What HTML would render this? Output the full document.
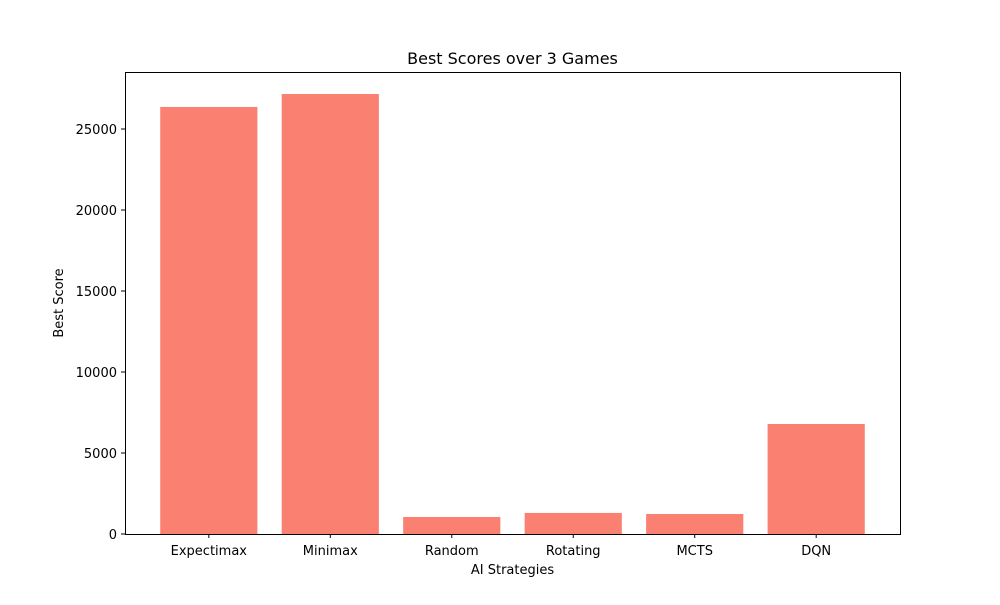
<!DOCTYPE html>
<html><head><meta charset="utf-8"><style>
body{margin:0;background:#fff;font-family:"Liberation Sans","DejaVu Sans",sans-serif;}
svg text{font-family:"DejaVu Sans","Liberation Sans",sans-serif;}
</style></head><body>
<svg id="chart" width="1000" height="600" xmlns="http://www.w3.org/2000/svg">
<rect width="1000" height="600" fill="#fff"/>
<g id="bars"></g><g id="xt"></g><g id="yt"></g>
<rect x="125.5" y="72.5" width="775" height="462" fill="none" stroke="#000" stroke-width="1"/>
<text x="512.5" y="64" text-anchor="middle" font-size="16">Best Scores over 3 Games</text>
<text x="512.5" y="574" text-anchor="middle" font-size="13">AI Strategies</text>
<text transform="translate(63,303) rotate(-90)" text-anchor="middle" font-size="13">Best Score</text>
</svg>
<script>
const categories=["Expectimax","Minimax","Random","Rotating","MCTS","DQN"];
const scores=[26360,27160,1050,1300,1235,6790];
const yTicks=[0,5000,10000,15000,20000,25000];
const L=125,R=900,T=72,B=534;
const ymax=Math.max(...scores)*1.05;
const xmin=-0.4-0.29,xmax=categories.length-1+0.4+0.29;
const xs=i=>L+(i-xmin)/(xmax-xmin)*(R-L);
const ys=v=>B-v/ymax*(B-T);
const NS="http://www.w3.org/2000/svg";
function mk(t,a,p){const e=document.createElementNS(NS,t);for(const k in a)e.setAttribute(k,a[k]);p.appendChild(e);return e;}
const bw=0.8*(R-L)/(xmax-xmin);
const gb=document.getElementById('bars'),gx=document.getElementById('xt'),gy=document.getElementById('yt');
categories.forEach((c,i)=>{
 const r=mk('rect',{x:xs(i)-bw/2,y:ys(scores[i]),width:bw,height:B-ys(scores[i]),fill:'#fa8072'},gb);
 
 
 const l=mk('line',{x1:xs(i),x2:xs(i),y1:B,y2:B+4,stroke:'#000'},gx);
 
 
 const t=mk('text',{x:xs(i),y:B+21,'text-anchor':'middle','font-size':13},gx);
 t.textContent=c;
 
 
});
yTicks.forEach(v=>{
 const l=mk('line',{x1:L-4,x2:L,y1:ys(v),y2:ys(v),stroke:'#000'},gy);
 
 
 const t=mk('text',{x:L-8,y:ys(v)+5,'text-anchor':'end','font-size':13},gy);
 t.textContent=v;
 
 
});
</script>
</body></html>
